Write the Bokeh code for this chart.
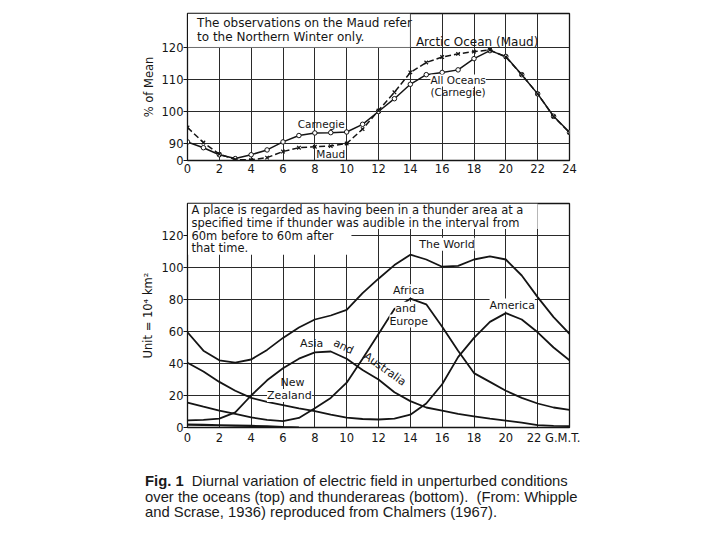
from bokeh.plotting import figure
from bokeh.models import Range1d, FixedTicker, BoxAnnotation, Label, Div
from bokeh.layouts import column
from bokeh.embed import file_html
from bokeh.resources import INLINE

# ---------------- data ----------------
hours = list(range(25))

# Top panel: % of mean
carnegie = [90.5, 88.7, 86.5, 85.3, 86.5, 88.0, 90.5, 92.5, 93.3, 93.4, 93.6, 96.0, 100.0,
            104.0, 108.5, 111.5, 112.2, 113.0, 116.5, 119.0, 117.2, 111.5, 105.5, 98.5, 93.5]
maud = [95.0, 90.3, 86.7, 85.0, 84.9, 85.6, 87.5, 88.7, 89.0, 89.2, 90.0, 94.5, 100.3,
        106.0, 112.2, 115.3, 117.0, 118.0, 118.7, 119.2, 117.0, 111.5, 105.5, 98.4, 93.4]

# Bottom panel: thunder area, unit = 10^4 km^2
world = [59.5, 48.0, 42.0, 40.5, 42.5, 48.5, 56.0, 62.5, 67.5, 70.0, 73.5, 84.0, 93.0,
         101.5, 108.0, 105.0, 100.5, 101.0, 105.0, 107.0, 105.0, 95.0, 81.5, 69.0, 58.5]
asia = [4.5, 4.8, 5.5, 9.5, 20.0, 29.5, 37.0, 43.0, 47.0, 47.5, 43.0, 36.0, 30.0,
        22.0, 16.5, 12.5, 10.5, 8.5, 7.0, 5.5, 4.3, 3.0, 1.5, 1.0, 0.8]
africa = [15.6, 13.0, 10.5, 8.5, 6.3, 4.8, 4.0, 6.0, 12.0, 18.5, 28.0, 43.0, 58.5,
          74.0, 80.5, 77.0, 63.0, 48.0, 34.0, 28.5, 23.0, 18.5, 15.0, 12.5, 11.0]
america = [40.5, 35.0, 28.5, 23.0, 18.5, 16.0, 14.0, 12.0, 10.2, 8.0, 6.2, 5.3, 5.0,
           5.5, 8.0, 15.0, 27.0, 44.0, 56.0, 66.0, 71.5, 67.5, 59.5, 50.0, 42.0]
nz_hours = [0, 1, 2, 3, 4, 5, 6, 7]
new_zealand = [1.8, 1.6, 1.4, 1.2, 1.0, 0.7, 0.3, 0.0]

top_xticks = list(range(0, 25, 2))
top_yticks = [84.7, 90, 100, 110, 120]
bot_xticks = list(range(0, 21, 2)) + [23]
bot_yticks = [0, 20, 40, 60, 80, 100, 120]

FONT = "DejaVu Sans"
INK = "#151515"


def style(p):
    p.background_fill_color = "white"
    p.border_fill_color = "white"
    p.outline_line_color = INK
    p.outline_line_width = 1.3
    for ax in (p.xaxis[0], p.yaxis[0]):
        ax.axis_line_color = INK
        ax.minor_tick_line_color = None
        ax.major_tick_in = 0
        ax.major_label_text_font = FONT
        ax.major_label_text_font_size = "11.5px"
        ax.major_label_text_color = INK
        ax.axis_label_text_font = FONT
        ax.axis_label_text_font_style = "normal"
        ax.axis_label_text_font_size = "11.5px"
        ax.axis_label_text_color = INK
    p.xaxis.major_tick_out = 0
    p.xaxis.major_label_standoff = 3
    p.yaxis.major_tick_out = 4
    p.yaxis.major_tick_line_color = INK
    p.yaxis.major_label_standoff = 0
    p.grid.grid_line_color = "#2a2a2a"
    p.grid.grid_line_width = 1


def lab(p, x, y, text, size="11px", align="center", angle=0.0, bg=None, baseline="middle"):
    l = Label(x=x, y=y, text=text, text_font=FONT, text_font_size=size, text_color=INK,
              text_align=align, text_baseline=baseline, angle=angle)
    if bg:
        l.background_fill_color = bg
        l.background_fill_alpha = 1.0
    p.add_layout(l)


# ---------------- top panel ----------------
p1 = figure(width=700, height=188, x_range=Range1d(0, 24), y_range=Range1d(84.7, 130.6),
            output_backend="svg", toolbar_location=None,
            min_border_left=187, min_border_right=131, min_border_top=13, min_border_bottom=28)
style(p1)
p1.xaxis.ticker = FixedTicker(ticks=top_xticks)
p1.yaxis.ticker = FixedTicker(ticks=top_yticks)
p1.yaxis.major_label_overrides = {84.7: "0"}
p1.xgrid.ticker = FixedTicker(ticks=list(range(2, 24, 2)))
p1.ygrid.ticker = FixedTicker(ticks=[90, 100, 110, 120])
p1.yaxis.axis_label = "% of Mean"
p1.yaxis.axis_label_standoff = 3

p1.add_layout(BoxAnnotation(left=0, right=14, bottom=120, top=130.6, fill_color="white",
                            fill_alpha=1, line_color=INK, line_width=1, level="underlay"))

p1.line(hours, carnegie, line_color=INK, line_width=1.5)
p1.scatter(hours, carnegie, marker="circle", size=4.5, fill_color="white", line_color=INK, line_width=1)
p1.line(hours, maud, line_color=INK, line_width=1.5, line_dash="6 3")
p1.scatter(hours, maud, marker="x", size=5, line_color=INK, line_width=1.2)

lab(p1, 0.6, 127.6, "The observations on the Maud refer", size="12px", align="left")
lab(p1, 0.6, 123.2, "to the Northern Winter only.", size="12px", align="left")
lab(p1, 14.35, 121.7, "Arctic Ocean (Maud)", size="12px", align="left")
lab(p1, 17.0, 109.7, "All Oceans", size="10.5px", bg="white")
lab(p1, 17.0, 106.2, "(Carnegie)", size="10.5px")
lab(p1, 8.4, 96.2, "Carnegie", size="10.5px")
lab(p1, 9.0, 86.7, "Maud", size="10.5px")

# ---------------- bottom panel ----------------
p2 = figure(width=700, height=259, x_range=Range1d(0, 24), y_range=Range1d(0, 140),
            output_backend="svg", toolbar_location=None,
            min_border_left=187, min_border_right=131, min_border_top=15, min_border_bottom=20)
style(p2)
p2.xaxis.ticker = FixedTicker(ticks=bot_xticks)
p2.xaxis.major_label_overrides = {23: "22 G.M.T."}
p2.yaxis.ticker = FixedTicker(ticks=bot_yticks)
p2.xgrid.ticker = FixedTicker(ticks=list(range(2, 24, 2)))
p2.ygrid.ticker = FixedTicker(ticks=[20, 40, 60, 80, 100, 120])
p2.yaxis.axis_label = "Unit = 10\u2074 km\u00b2"
p2.yaxis.axis_label_standoff = 4

p2.add_layout(BoxAnnotation(left=0, right=22, bottom=124, top=140, fill_color="white",
                            fill_alpha=1, line_color=None, level="underlay"))
p2.add_layout(BoxAnnotation(left=0, right=10.3, bottom=108, top=124, fill_color="white",
                            fill_alpha=1, line_color=None, level="underlay"))

for ys in (world, asia, africa, america):
    p2.line(hours, ys, line_color=INK, line_width=1.8)
p2.line(nz_hours, new_zealand, line_color=INK, line_width=2.2)

lab(p2, 0.25, 136, "A place is regarded as having been in a thunder area at a", size="11.5px", align="left")
lab(p2, 0.25, 128, "specified time if thunder was audible in the interval from", size="11.5px", align="left")
lab(p2, 0.25, 120, "60m before to 60m after", size="11.5px", align="left")
lab(p2, 0.25, 112, "that time.", size="11.5px", align="left")

lab(p2, 16.3, 114.5, "The World", bg="white")
lab(p2, 13.9, 85.5, "Africa", bg="white")
lab(p2, 13.7, 74.5, "and", bg="white")
lab(p2, 13.9, 66.5, "Europe", bg="white")
lab(p2, 20.4, 76.5, "America", bg="white")
lab(p2, 7.8, 52.5, "Asia")
lab(p2, 9.8, 50.5, "and", angle=-0.45)
lab(p2, 12.4, 36.5, "Australia", angle=-0.62)
lab(p2, 6.6, 28.0, "New")
lab(p2, 6.4, 20.0, "Zealand", bg="white")

caption = Div(
    text=("<b>Fig. 1</b>&nbsp; Diurnal variation of electric field in unperturbed conditions<br>"
          "over the oceans (top) and thunderareas (bottom).&nbsp; (From: Whipple<br>"
          "and Scrase, 1936) reproduced from Chalmers (1967)."),
    width=560, margin=(27, 0, 0, 145),
    styles={"font-family": "'Liberation Sans', Arial, sans-serif", "font-size": "14.8px",
            "line-height": "15.5px", "color": "#1a1a1a"})

layout = column(p1, p2, caption)
open("out.html", "w").write(file_html(layout, INLINE))
